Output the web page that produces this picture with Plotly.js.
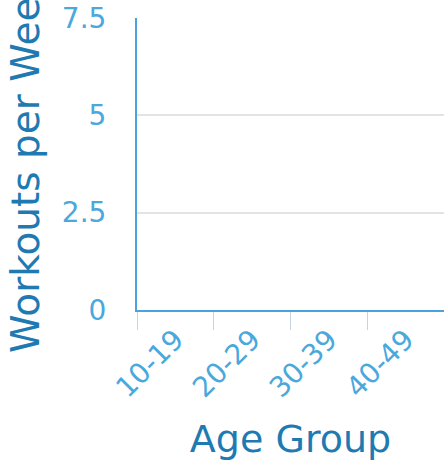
<!DOCTYPE html>
<html>
<head>
<meta charset="utf-8">
<script src="https://cdn.plot.ly/plotly-3.0.1.min.js"></script>
<style>html,body{margin:0;padding:0;background:#fff;}#chart{width:444px;height:461px;}</style>
</head>
<body>
<div id="chart"></div>
<script>
var ageGroups = ["10-19", "20-29", "30-39", "40-49"];
var workoutsPerWeek = [0, 0, 0, 0];
var yTickValues = [0, 2.5, 5, 7.5];
var yTickLabels = ["0", "2.5", "5", "7.5"];

var trace = {
  type: "bar",
  x: ageGroups,
  y: workoutsPerWeek,
  marker: {color: "#4aa3df", line: {width: 0}},
  hoverinfo: "skip"
};

var layout = {
  width: 444,
  height: 461,
  margin: {l: 137, r: 0, t: 18, b: 151, pad: 0},
  paper_bgcolor: "#ffffff",
  plot_bgcolor: "#ffffff",
  showlegend: false,
  font: {family: "DejaVu Sans", color: "#4aa8dc"},
  xaxis: {
    type: "category",
    categoryorder: "array",
    categoryarray: ageGroups,
    range: [-0.5, ageGroups.length - 0.5],
    title: {text: "Age Group", font: {size: 38, color: "#1f7ab2"}, standoff: 23},
    tickfont: {size: 28, color: "#4aa8dc"},
    tickangle: -45,
    tickson: "boundaries",
    ticks: "outside",
    ticklen: 18,
    tickwidth: 1,
    tickcolor: "#c8d4e6",
    showline: true,
    linecolor: "#4aa3df",
    linewidth: 2,
    showgrid: false,
    zeroline: false,
    automargin: false
  },
  yaxis: {
    range: [0, 7.5],
    tickvals: yTickValues,
    ticktext: yTickLabels,
    title: {text: "Workouts per Week", font: {size: 39, color: "#1f7ab2"}, standoff: 10},
    tickfont: {size: 28, color: "#4aa8dc"},
    ticklabelstandoff: 23,
    ticks: "",
    showline: true,
    linecolor: "#4aa3df",
    linewidth: 2,
    showgrid: true,
    gridcolor: "#e3e3e3",
    gridwidth: 2,
    zeroline: false,
    automargin: false
  }
};

Plotly.newPlot("chart", [trace], layout, {displayModeBar: false, staticPlot: true});
</script>
</body>
</html>
